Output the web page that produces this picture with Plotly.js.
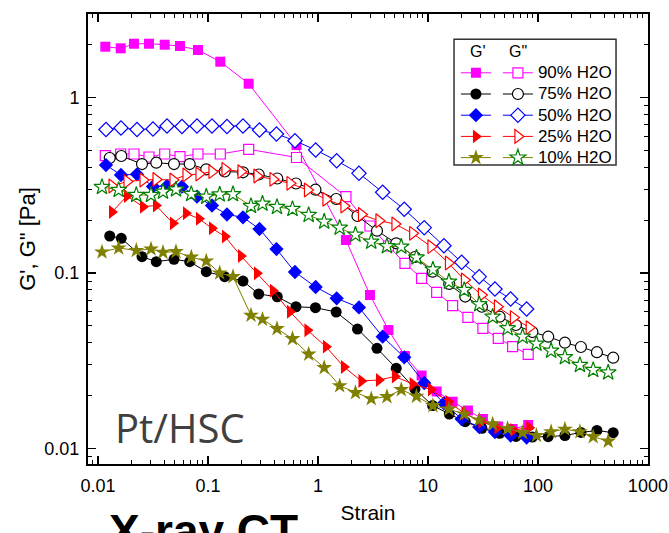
<!DOCTYPE html>
<html>
<head>
<meta charset="utf-8">
<script src="https://cdn.plot.ly/plotly-3.0.1.min.js"></script>
<style>
html,body{margin:0;padding:0;background:#fff;}
#chart{width:669px;height:533px;}
</style>
</head>
<body>
<div id="chart"></div>
<script>
// ---- data (strain, G' and G'' in Pa) ----
var legendLabels = ["90% H2O", "75% H2O", "50% H2O", "25% H2O", "10% H2O"];

var strain90 = [0.01165,0.01608,0.02125,0.02908,0.04041,0.05566,0.08111,0.1294,0.2344,0.6376,1.797,2.97,4.375,6.18,8.76,12.0,16.77,23.1,31.6,43.6,58.9,81.6];
var gp90  = [1.954,1.913,2.032,2.032,2.006,1.972,1.871,1.605,1.202,0.537,0.1543,0.07489,0.04728,0.03361,0.02602,0.02109,0.01844,0.01643,0.01469,0.01332,0.01289,0.01358];
var gpp90 = [0.4668,0.4774,0.4774,0.459,0.4774,0.4608,0.4774,0.4774,0.5077,0.456,0.2724,0.1854,0.1426,0.1136,0.0933,0.0776,0.0651,0.05589,0.04835,0.04241,0.03799,0.03437];

var strain75 = [0.01278,0.01628,0.02512,0.03388,0.04909,0.06817,0.0965,0.1419,0.2081,0.2891,0.4266,0.631,0.949,1.464,2.287,3.44,5.15,7.617,11.03,15.62,21.83,30.97,44.85,63.1,89.1,124.0,176.0,246.0,344.0,483.6];
var gp75  = [0.1626,0.1577,0.1239,0.116,0.1197,0.116,0.1017,0.0953,0.09,0.0759,0.0732,0.0642,0.0634,0.0599,0.04791,0.03719,0.0286,0.02179,0.01754,0.01569,0.01418,0.01301,0.01218,0.01168,0.0116,0.01165,0.01183,0.01231,0.01264,0.01227];
var gpp75 = [0.4529,0.4651,0.4184,0.4257,0.4184,0.4184,0.3903,0.3793,0.3754,0.3647,0.346,0.324,0.2987,0.2644,0.2114,0.1743,0.1477,0.1234,0.1017,0.0866,0.0734,0.0642,0.05633,0.05051,0.04605,0.04331,0.04003,0.03783,0.03533,0.03287];

var strain50 = [0.01182,0.01618,0.02262,0.03162,0.0424,0.05802,0.07943,0.1087,0.1488,0.2081,0.2939,0.4195,0.6178,0.953,1.479,2.359,3.875,6.088,9.256,13.98,20.25,29.27,40.65,56.47,78.96];
var gp50  = [0.413,0.3622,0.3656,0.3114,0.3135,0.3106,0.2724,0.2427,0.2157,0.2078,0.1782,0.137,0.1013,0.0832,0.0717,0.0636,0.04331,0.03304,0.02358,0.01806,0.01469,0.01323,0.01239,0.01183,0.01152];
var gpp50 = [0.6587,0.6718,0.6587,0.6632,0.6896,0.685,0.6896,0.6896,0.685,0.6896,0.6544,0.6211,0.5684,0.503,0.4371,0.3704,0.2887,0.2309,0.1813,0.1431,0.1151,0.0953,0.081,0.0711,0.0623];

var strain25 = [0.01341,0.01834,0.02566,0.03368,0.04807,0.0631,0.08283,0.1087,0.1427,0.1995,0.279,0.3898,0.5566,0.8027,1.182,1.723,2.486,3.584,5.012,7.26,10.65,15.36,21.47,30.65,42.83,59.9,83.35];
var gp25  = [0.2228,0.2749,0.2389,0.2427,0.192,0.2191,0.204,0.1799,0.1615,0.125,0.0996,0.0793,0.0601,0.04711,0.03799,0.02909,0.0242,0.02452,0.02568,0.02327,0.02165,0.01844,0.01584,0.01418,0.01311,0.01272,0.01311];
var gpp25 = [0.3135,0.3326,0.3392,0.3415,0.3392,0.3622,0.367,0.3783,0.3904,0.3783,0.3575,0.3424,0.3248,0.2975,0.2633,0.2411,0.2157,0.1987,0.1903,0.1684,0.1413,0.114,0.0912,0.0749,0.0642,0.0557,0.0488];

var strain10 = [0.01087,0.01542,0.02229,0.03032,0.03898,0.05117,0.07051,0.0965,0.1278,0.1688,0.246,0.313,0.4239,0.5865,0.8233,1.139,1.575,2.193,3.051,4.239,5.72,7.862,11.1,15.52,21.38,29.27,38.75,53.03,72.6,96.9,131.8,176.0,240.9,318.2,435.6];
var gp10  = [0.1317,0.1389,0.1344,0.137,0.1312,0.1323,0.1231,0.117,0.1,0.0953,0.0574,0.0544,0.04811,0.04219,0.03441,0.02883,0.02272,0.02076,0.01916,0.01969,0.02159,0.01979,0.0175,0.01671,0.01569,0.0145,0.01373,0.01294,0.01227,0.01183,0.01243,0.01284,0.01243,0.01165,0.01098];
var gpp10 = [0.3094,0.2975,0.2786,0.2786,0.2909,0.2994,0.2822,0.2724,0.2804,0.2815,0.2411,0.2485,0.2379,0.2317,0.2143,0.1962,0.1811,0.1654,0.1509,0.142,0.1413,0.1226,0.1047,0.0892,0.08,0.0663,0.0563,0.04835,0.04331,0.0395,0.03603,0.03309,0.02987,0.02796,0.02706];

var xTickVals = [0.01, 0.1, 1, 10, 100, 1000];
var xTickText = ["0.01", "0.1", "1", "10", "100", "1000"];
var yTickVals = [0.01, 0.1, 1];
var yTickText = ["0.01", "0.1", "1"];

// ---- styles ----
var series = [
  {x: strain90, gp: gp90, gpp: gpp90, line: "#FF00FF", edge: "#FF00FF", sym: "square", size: 10},
  {x: strain75, gp: gp75, gpp: gpp75, line: "#000000", edge: "#000000", sym: "circle", size: 11},
  {x: strain50, gp: gp50, gpp: gpp50, line: "#0000FF", edge: "#0000FF", sym: "diamond", size: 11},
  {x: strain25, gp: gp25, gpp: gpp25, line: "#FF0000", edge: "#FF0000", sym: "triangle-right", size: 12},
  {x: strain10, gp: gp10, gpp: gpp10, line: "#808000", edge: "#008000", sym: "star", size: 12, fillG1: "#808000"}
];

var traces = [];
series.forEach(function(s, i) {
  traces.push({
    x: s.x, y: s.gp, type: "scatter", mode: "lines+markers",
    name: " ", legend: "legend",
    line: {color: s.line, width: 1},
    marker: {symbol: s.sym, size: s.size, color: s.fillG1 || s.line, line: {width: 0}}
  });
  traces.push({
    x: s.x, y: s.gpp, type: "scatter", mode: "lines+markers",
    name: "<span style='font-size:17px'>" + legendLabels[i] + "</span>", legend: "legend2",
    line: {color: s.line, width: 1},
    marker: {symbol: s.sym, size: s.size, color: "#FFFFFF", line: {color: s.edge, width: 1.2}}
  });
});

var FONT = "Arial, 'Liberation Sans', sans-serif";

var layout = {
  width: 669, height: 533,
  margin: {l: 88, r: 21, t: 14, b: 69},
  paper_bgcolor: "#FFFFFF", plot_bgcolor: "#FFFFFF",
  font: {family: FONT, size: 16, color: "#000"},
  xaxis: {
    type: "log", range: [-2.091, 3.001],
    tickmode: "array", tickvals: xTickVals, ticktext: xTickText,
    ticks: "inside", ticklen: 8, tickwidth: 1.5, tickcolor: "#000",
    minor: {tickmode: "linear", dtick: "D1", ticks: "inside", ticklen: 4, tickwidth: 1, tickcolor: "#000", showgrid: false},
    showline: true, linewidth: 2, linecolor: "#000", mirror: "allticks",
    showgrid: false, zeroline: false,
    ticklabelstandoff: 4,
    tickfont: {size: 18, family: FONT},
    title: {text: "Strain", font: {size: 21, family: FONT}, standoff: 11}
  },
  yaxis: {
    type: "log", range: [-2.0896, 0.4775],
    tickmode: "array", tickvals: yTickVals, ticktext: yTickText,
    ticks: "inside", ticklen: 8, tickwidth: 1.5, tickcolor: "#000",
    minor: {tickmode: "linear", dtick: "D1", ticks: "inside", ticklen: 4, tickwidth: 1, tickcolor: "#000", showgrid: false},
    showline: true, linewidth: 2, linecolor: "#000", mirror: "allticks",
    showgrid: false, zeroline: false,
    ticklabelstandoff: 3,
    tickfont: {size: 18, family: FONT},
    title: {text: "G', G\" [Pa]", font: {size: 22, family: FONT}, standoff: 3}
  },
  showlegend: true,
  legend: {
    x: 0.657, y: 0.904, xanchor: "left", yanchor: "top",
    bgcolor: "rgba(0,0,0,0)", borderwidth: 0, itemwidth: 30,
    font: {size: 14, family: FONT}, tracegroupgap: 0, itemclick: false
  },
  legend2: {
    x: 0.732, y: 0.904, xanchor: "left", yanchor: "top",
    bgcolor: "rgba(0,0,0,0)", borderwidth: 0, itemwidth: 30,
    font: {size: 14, family: FONT}, tracegroupgap: 0, itemclick: false
  },
  shapes: [{
    type: "rect", xref: "paper", yref: "paper",
    x0: 0.6536, x1: 0.9429, y0: 0.6644, y1: 0.9438,
    line: {color: "#333", width: 1.5}
  }],
  annotations: [
    {xref: "paper", yref: "paper", x: 0.6964, y: 0.9162, text: "G'", showarrow: false,
     font: {size: 16, family: FONT}, xanchor: "center", yanchor: "middle"},
    {xref: "paper", yref: "paper", x: 0.7679, y: 0.9162, text: "G\"", showarrow: false,
     font: {size: 16, family: FONT}, xanchor: "center", yanchor: "middle"},
    {xref: "paper", yref: "paper", x: 0.0446, y: 0.0156, text: "Pt/HSC", showarrow: false,
     font: {size: 40, family: "'Open Sans', 'Noto Sans', sans-serif", color: "#404040"}, xanchor: "left", yanchor: "bottom"},
    {xref: "paper", yref: "paper", x: 0.207, y: -0.0867, text: "<b>X-ray CT</b>", showarrow: false,
     font: {size: 46, family: FONT, color: "#000"}, xanchor: "center", yanchor: "top"}
  ]
};

Plotly.newPlot("chart", traces, layout, {displayModeBar: false, staticPlot: true});
</script>
</body>
</html>
